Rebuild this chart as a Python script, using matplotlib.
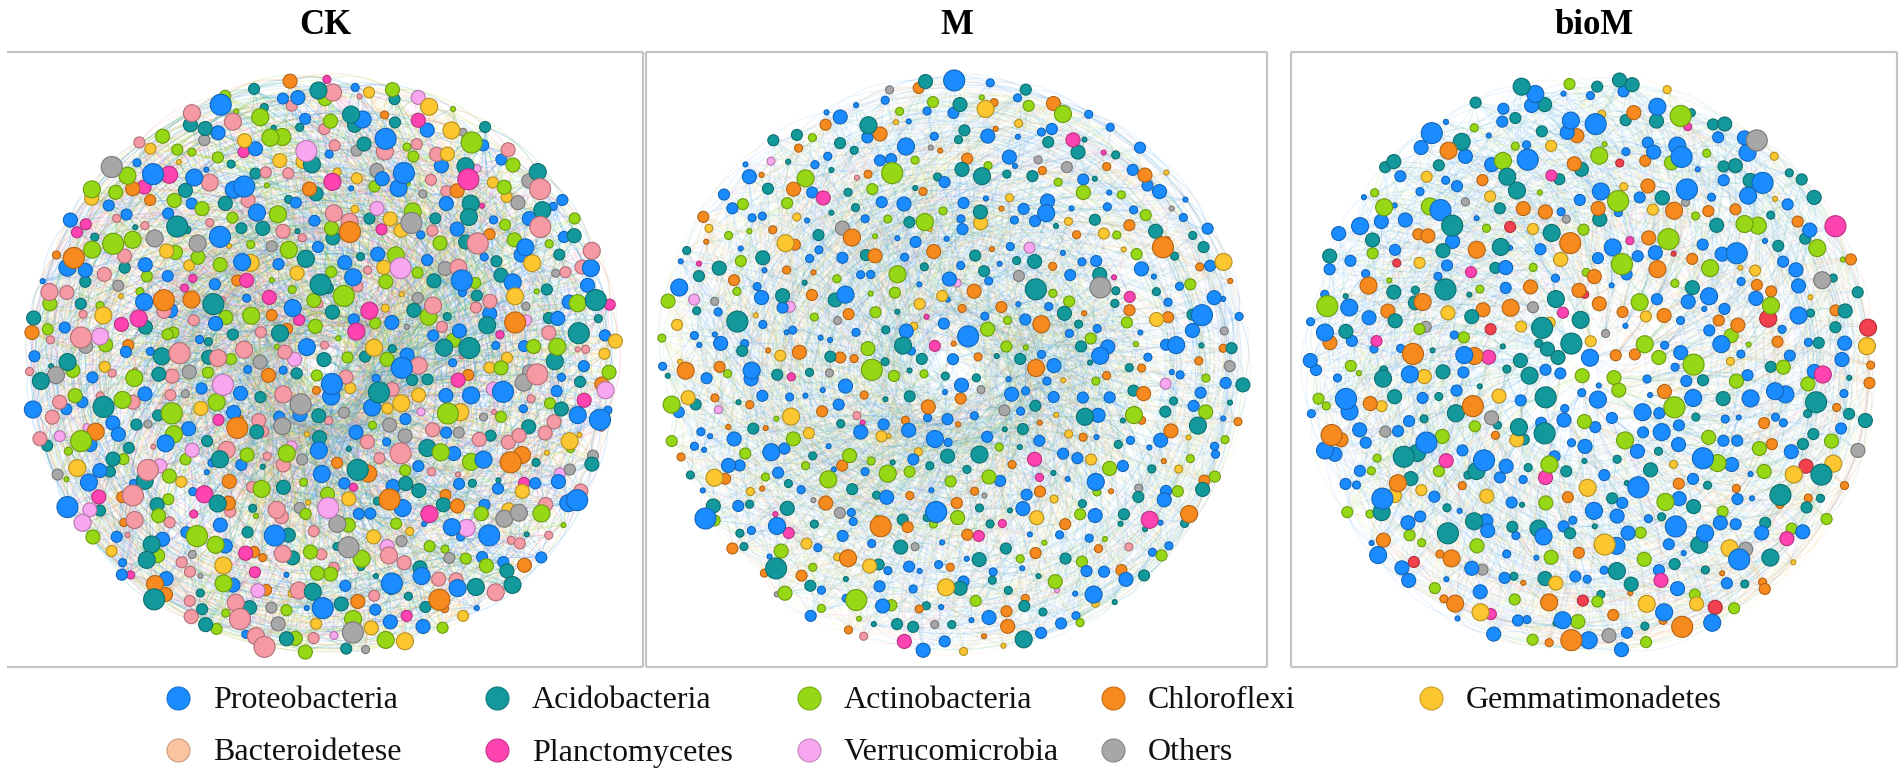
import numpy as np
import matplotlib
matplotlib.use("Agg")
import matplotlib.pyplot as plt
from matplotlib.collections import LineCollection
from matplotlib.colors import to_rgb

# phylum legend (row-major, 5 per row)
phyla = ['Proteobacteria', 'Acidobacteria', 'Actinobacteria', 'Chloroflexi',
         'Gemmatimonadetes', 'Bacteroidetese', 'Planctomycetes',
         'Verrucomicrobia', 'Others']
legend_colors = ['#1a8cff', '#13999b', '#97d816', '#f78a1e', '#fcc631',
                 '#fbc3a0', '#ff43b1', '#f8a6ef', '#a7a7a7']
# in the networks Bacteroidetese nodes show up salmon pink
node_colors = ['#1a8cff', '#13999b', '#97d816', '#f78a1e', '#fcc631',
               '#f59aa4', '#ff43b1', '#f8a6ef', '#a7a7a7']
red_color = '#f2404f'   # a few red nodes in bioM, not in the legend

treatments = ['CK', 'M', 'bioM']
# estimated number of nodes per phylum in each network
ck_counts = [175, 140, 135, 45, 60, 130, 35, 25, 50]
m_counts = [245, 150, 95, 105, 45, 4, 18, 8, 22]
biom_counts = [235, 135, 85, 80, 40, 0, 14, 0, 14]
biom_red = 12

# node diameter classes (px) and share of nodes in each class
size_classes = [5, 8, 11, 14, 17, 21]
ck_size_share = [0.06, 0.14, 0.26, 0.28, 0.18, 0.08]
m_size_share = [0.20, 0.32, 0.27, 0.13, 0.06, 0.02]
biom_size_share = [0.08, 0.18, 0.28, 0.24, 0.15, 0.07]

# layout of the panels in figure pixels
W, H = 1902, 774
panel_boxes = [(7, 643), (646, 1267), (1291, 1897)]
box_top, box_bottom = 52, 667
net_centers = [(323, 366), (952, 366), (1589, 365)]
net_radii = [(298, 291), (296, 290), (286, 291)]
edge_alpha = [0.19, 0.10, 0.10]
edge_offsets = [3, 8, 13, 21, 34, 55, 89, 144, 233, 377]


def darker(c, f=0.72):
    r, g, b = to_rgb(c)
    return (r * f, g * f, b * f)


def frac(x):
    return x - np.floor(x)


fig = plt.figure(figsize=(W / 100, H / 100), dpi=100)
ax = fig.add_axes([0, 0, 1, 1])
ax.set_xlim(0, W)
ax.set_ylim(H, 0)
ax.axis('off')

all_counts = [ck_counts, m_counts, biom_counts]
all_shares = [ck_size_share, m_size_share, biom_size_share]

for p, name in enumerate(treatments):
    cols = list(node_colors)
    counts = list(all_counts[p])
    if name == 'bioM':
        cols.append(red_color)
        counts.append(biom_red)
    labels = np.repeat(np.arange(len(counts)), counts)
    n = len(labels)
    idx = np.arange(n)

    # mix the phyla over the nodes
    labels = labels[np.argsort(frac(idx * np.sqrt(2) + 0.13))]
    share = np.array(all_shares[p])
    bounds = np.cumsum(share) / share.sum()
    size_key = frac(idx * np.sqrt(3) + 0.37)
    diam = np.array(size_classes)[np.searchsorted(bounds, size_key)]

    # sunflower layout with a small deterministic wobble
    slot = (idx + n // 2) % n
    r = np.sqrt((slot + 0.5) / n)
    th = slot * np.pi * (3 - np.sqrt(5))
    step = np.sqrt(np.pi / n)
    x = r * np.cos(th) + 0.7 * step * (frac(slot * 0.7548776662) - 0.5)
    y = r * np.sin(th) + 0.7 * step * (frac(slot * 0.5698402910) - 0.5)
    rr = np.hypot(x, y)
    scale = np.where(rr > 0.985, 0.985 / rr, 1.0)
    x, y = x * scale, y * scale
    cx, cy = net_centers[p]
    rx, ry = net_radii[p]
    px = cx + x * rx
    py = cy + y * ry

    # curved edges, bending to either side
    src, dst = [], []
    for off in edge_offsets:
        src.append(idx[:-off] if off < n else [])
        dst.append(idx[off:] if off < n else [])
    src = np.concatenate(src).astype(int)
    dst = np.concatenate(dst).astype(int)
    p0 = np.column_stack([px[src], py[src]])
    p1 = np.column_stack([px[dst], py[dst]])
    d = p1 - p0
    bend = np.where(frac(np.arange(len(src)) * 0.618034) > 0.5, 0.22, -0.22)
    ctrl = (p0 + p1) / 2 + bend[:, None] * np.column_stack([-d[:, 1], d[:, 0]])
    t = np.linspace(0, 1, 10)[None, :, None]
    segs = ((1 - t) ** 2) * p0[:, None, :] + 2 * (1 - t) * t * ctrl[:, None, :] + (t ** 2) * p1[:, None, :]
    ecol = [to_rgb(cols[labels[s]]) + (edge_alpha[p],) for s in src]
    ax.add_collection(LineCollection(segs, colors=ecol, linewidths=0.7, zorder=1))

    # nodes, small ones first
    order = np.argsort(diam, kind='stable')
    fc = [cols[labels[i]] for i in order]
    ec = [darker(c) for c in fc]
    ax.scatter(px[order], py[order], s=(diam[order] * 0.72) ** 2, c=fc,
               edgecolors=ec, linewidths=0.8, zorder=2)

    # panel frame and title
    x0, x1 = panel_boxes[p]
    fr = dict(color='#c4c4c4', lw=1.6, zorder=3, solid_capstyle='butt')
    ax.plot([x0, x1], [box_top, box_top], **fr)
    ax.plot([x0, x1], [box_bottom, box_bottom], **fr)
    ax.plot([x1, x1], [box_top, box_bottom], **fr)
    if name != 'CK':
        ax.plot([x0, x0], [box_top, box_bottom], **fr)
    ax.text((x0 + x1) / 2, 34, name, ha='center', va='baseline', fontsize=25,
            fontweight='bold', family='Liberation Serif')

# legend
col_x = [178, 497, 809, 1113, 1431]
row_y = [698, 750]
for j, ph in enumerate(phyla):
    lx, ly = col_x[j % 5], row_y[j // 5]
    ax.scatter([lx], [ly], s=(23 * 0.72) ** 2, c=[legend_colors[j]],
               edgecolors=[darker(legend_colors[j], 0.8)], linewidths=0.8, zorder=4)
    ax.text(lx + 35, ly + 10.5, ph, ha='left', va='baseline', fontsize=23,
            family='Liberation Serif', color='#111111')

fig.savefig('out.png', dpi=100)
